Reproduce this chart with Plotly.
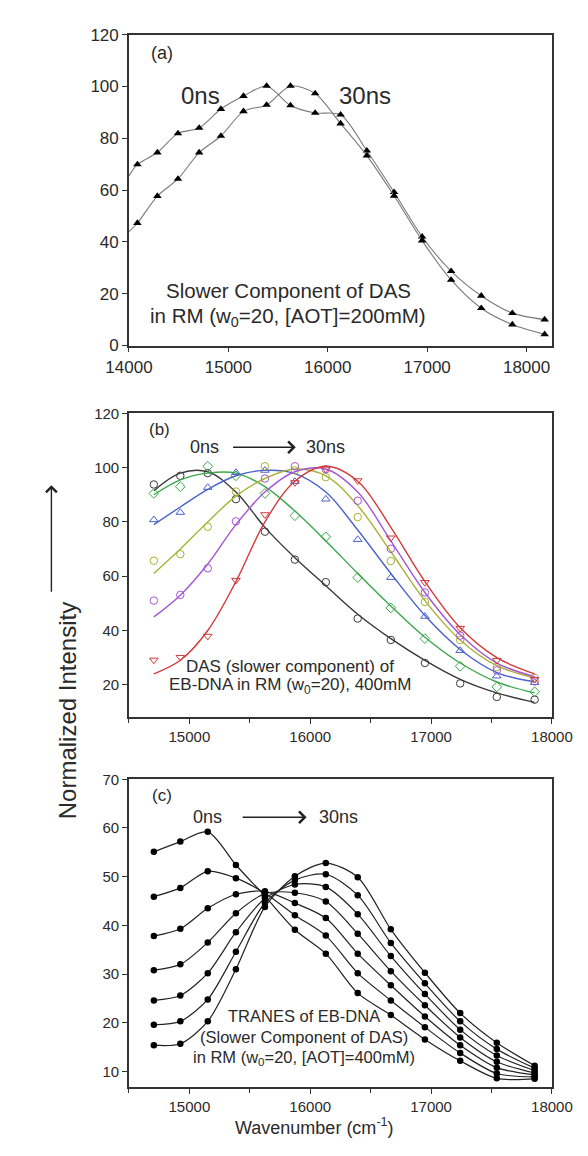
import plotly.graph_objects as go

W, H = 588, 1156

# ---------------- Panel (a) ----------------
wn_a = [14085, 14286, 14493, 14706, 14925, 15152, 15385, 15625, 15873,
        16129, 16393, 16667, 16949, 17241, 17544, 17857, 18182]
a_0ns = [69.9, 74.5, 81.9, 84.0, 91.3, 96.3, 100.2, 92.7, 89.8,
         89.1, 75.2, 59.2, 42.0, 28.7, 19.2, 12.5, 10.0]
a_30ns = [47.3, 57.7, 64.3, 74.5, 80.9, 90.4, 92.9, 100.2, 97.3,
          85.7, 73.3, 57.8, 40.5, 25.3, 14.4, 8.1, 4.3]
a_line_start_x = [14000]
a_0ns_start = [65.5]
a_30ns_start = [44.0]

# ---------------- Panel (b) ----------------
wn_bc = [14706, 14925, 15152, 15385, 15625, 15873, 16129,
         16393, 16667, 16949, 17241, 17544, 17857]
b_black = [93.8, 97.0, 98.0, 88.4, 76.4, 66.1, 57.8, 44.4, 36.5, 28.0, 20.5, 15.5, 14.5]
b_green = [90.5, 93.0, 100.5, 97.0, 90.5, 82.3, 74.5, 59.5, 48.3, 37.0, 26.8, 19.2, 17.4]
b_blue = [80.8, 83.5, 92.7, 98.2, 99.0, 94.9, 88.4, 73.5, 59.5, 45.2, 32.6, 23.2, 20.8]
b_olive = [65.7, 68.1, 78.2, 91.2, 100.5, 99.0, 96.5, 81.8, 65.6, 50.5, 36.5, 26.5, 22.5]
b_purple = [51.0, 53.1, 62.9, 80.2, 96.0, 100.5, 99.4, 87.8, 70.1, 54.0, 38.1, 25.3, 21.2]
b_red = [29.1, 30.1, 37.9, 58.5, 82.7, 94.5, 99.5, 95.2, 74.1, 57.7, 40.8, 29.0, 22.0]

fit_black = [91.5, 98.0, 98.5, 91.0, 78.0, 66.8, 56.5, 46.0, 37.0, 29.0, 22.0, 17.0, 13.5]
fit_green = [90.0, 95.5, 98.0, 98.0, 93.0, 84.0, 73.0, 61.0, 49.0, 37.5, 28.0, 21.0, 17.0]
fit_blue = [79.0, 85.5, 92.0, 97.0, 99.0, 97.8, 91.0, 77.0, 61.0, 45.5, 33.0, 24.5, 21.0]
fit_olive = [61.0, 70.0, 80.0, 89.5, 96.0, 99.5, 97.0, 86.0, 69.0, 51.0, 36.5, 27.0, 22.5]
fit_purple = [45.0, 53.0, 64.5, 79.0, 91.0, 98.5, 99.5, 91.0, 73.0, 54.0, 38.5, 28.0, 23.0]
fit_red = [24.0, 29.0, 40.0, 58.0, 80.0, 95.0, 100.5, 95.0, 78.0, 58.0, 41.0, 30.0, 24.0]

# ---------------- Panel (c) ----------------
c_curves = [
    [55.1, 57.2, 59.2, 52.4, 46.0, 39.1, 34.2, 26.1, 21.6, 16.6, 12.2, 8.6, 8.5],
    [45.9, 47.7, 51.1, 49.7, 46.6, 42.1, 37.9, 30.2, 24.6, 19.1, 13.8, 9.6, 8.9],
    [37.8, 39.3, 43.5, 46.4, 47.0, 44.6, 41.5, 34.2, 27.7, 21.3, 15.4, 10.8, 9.3],
    [30.8, 32.0, 36.5, 42.5, 46.5, 46.7, 44.9, 38.3, 30.6, 23.6, 17.0, 12.0, 9.7],
    [24.6, 25.6, 30.2, 38.6, 45.5, 48.4, 47.9, 42.3, 33.7, 25.9, 18.6, 13.3, 10.2],
    [19.6, 20.3, 24.8, 34.6, 44.6, 49.3, 50.5, 46.2, 36.4, 28.1, 20.3, 14.6, 10.7],
    [15.4, 15.7, 20.3, 31.0, 43.8, 50.1, 52.8, 49.9, 39.2, 30.3, 22.0, 15.9, 11.2],
]

FONT = "Liberation Sans, Arial, sans-serif"
TXT = "#2a2a2a"
AX = "#333333"

fig = go.Figure()

# Panel (a)
for ys, start in [(a_0ns, a_0ns_start), (a_30ns, a_30ns_start)]:
    fig.add_trace(go.Scatter(x=a_line_start_x + wn_a, y=start + ys, mode="lines",
                             line=dict(color="#7a7a7a", width=1.1, shape="spline", smoothing=0.8),
                             xaxis="x", yaxis="y", showlegend=False, hoverinfo="skip"))
    fig.add_trace(go.Scatter(x=wn_a, y=ys, mode="markers",
                             marker=dict(symbol="triangle-up", size=7.5, color="black"),
                             xaxis="x", yaxis="y", showlegend=False))

# Panel (b)
b_series = [
    (b_black, fit_black, "#3a3a3a", "circle-open"),
    (b_green, fit_green, "#3aa84a", "diamond-open"),
    (b_blue, fit_blue, "#4a62cc", "triangle-up-open"),
    (b_olive, fit_olive, "#a9b236", "circle-open"),
    (b_purple, fit_purple, "#a456d4", "circle-open"),
    (b_red, fit_red, "#d23a3a", "triangle-down-open"),
]
for pts, fit, col, sym in b_series:
    fig.add_trace(go.Scatter(x=wn_bc, y=fit, mode="lines",
                             line=dict(color=col, width=1.4, shape="spline", smoothing=1.0),
                             xaxis="x2", yaxis="y2", showlegend=False, hoverinfo="skip"))
    fig.add_trace(go.Scatter(x=wn_bc, y=pts, mode="markers",
                             marker=dict(symbol=sym, size=7.5, color=col, line=dict(width=1, color=col)),
                             xaxis="x2", yaxis="y2", showlegend=False))

# Panel (c)
for ys in c_curves:
    fig.add_trace(go.Scatter(x=wn_bc, y=ys, mode="lines+markers",
                             line=dict(color="#222222", width=1.2, shape="spline", smoothing=0.8),
                             marker=dict(symbol="circle", size=6.5, color="black"),
                             xaxis="x3", yaxis="y3", showlegend=False))

XD = [105 / W, 563 / W]
def ydom(top_px, bot_px):
    return [1 - bot_px / H, 1 - top_px / H]

common_ax = dict(showline=True, linecolor=AX, linewidth=1.6, mirror=True,
                 ticks="outside", ticklen=5, tickwidth=1.2, tickcolor=AX,
                 showgrid=False, zeroline=False, tickformat="d")

fig.update_layout(
    width=W, height=H, margin=dict(l=0, r=0, t=0, b=0),
    paper_bgcolor="white", plot_bgcolor="white",
    font=dict(family=FONT, color=TXT),
    xaxis=dict(domain=XD, range=[14000, 18255], anchor="y", tickvals=[14000, 15000, 16000, 17000, 18000],
               tickfont=dict(size=17), **common_ax),
    yaxis=dict(domain=ydom(18, 334), range=[0, 120], anchor="x", dtick=20,
               tickfont=dict(size=17), **common_ax),
    xaxis2=dict(domain=XD, range=[14500, 18000], anchor="y2", tickvals=[15000, 16000, 17000, 18000],
                minor=dict(ticks="outside", dtick=500, ticklen=4, tickcolor=AX),
                tickfont=dict(size=15), **common_ax),
    yaxis2=dict(domain=ydom(403, 712), range=[8, 120], anchor="x2", tickvals=[20, 40, 60, 80, 100, 120],
                tickfont=dict(size=15), **common_ax),
    xaxis3=dict(domain=XD, range=[14500, 18000], anchor="y3", tickvals=[15000, 16000, 17000, 18000],
                minor=dict(ticks="outside", dtick=500, ticklen=4, tickcolor=AX),
                tickfont=dict(size=15), **common_ax),
    yaxis3=dict(domain=ydom(775, 1088), range=[6.8, 70], anchor="x3", tickvals=[10, 20, 30, 40, 50, 60, 70],
                tickfont=dict(size=15), **common_ax),
)

ann = []
def txt(x, y, t, size, xref, yref, **kw):
    ann.append(dict(x=x, y=y, text=t, xref=xref, yref=yref, showarrow=False,
                    font=dict(size=size, family=FONT, color=TXT), **kw))

# (a) texts
txt(14328, 113, "(a)", 18, "x", "y")
txt(14722, 96.7, "0ns", 24, "x", "y")
txt(16379, 96.7, "30ns", 24, "x", "y")
txt(15603, 21.3, "Slower Component of DAS", 20.5, "x", "y")
txt(15603, 11.0, "in RM (w<sub>0</sub>=20, [AOT]=200mM)", 20.5, "x", "y")

# (b) texts
txt(14752, 114.1, "(b)", 17, "x2", "y2")
txt(15125, 107.5, "0ns", 18, "x2", "y2")
txt(16128, 107.5, "30ns", 18, "x2", "y2")
ann.append(dict(x=15880, y=107.5, ax=15349, ay=107.5, xref="x2", yref="y2", axref="x2", ayref="y2",
                showarrow=True, arrowhead=4, arrowsize=1.6, arrowwidth=1.4, arrowcolor="#222", text=""))
txt(15836, 26.6, "DAS (slower component) of", 17, "x2", "y2")
txt(15836, 19.5, "EB-DNA in RM (w<sub>0</sub>=20), 400mM", 17, "x2", "y2")

# (c) texts
txt(14773, 66.6, "(c)", 17, "x3", "y3")
txt(15151, 62.2, "0ns", 18, "x3", "y3")
txt(16236, 62.2, "30ns", 18, "x3", "y3")
ann.append(dict(x=15970, y=62.2, ax=15428, ay=62.2, xref="x3", yref="y3", axref="x3", ayref="y3",
                showarrow=True, arrowhead=4, arrowsize=1.6, arrowwidth=1.4, arrowcolor="#222", text=""))
txt(15951, 21.4, "TRANES of EB-DNA", 16.5, "x3", "y3")
txt(15951, 17.1, "(Slower Component of DAS)", 16.5, "x3", "y3")
txt(15951, 12.8, "in RM (w<sub>0</sub>=20, [AOT]=400mM)", 16.5, "x3", "y3")

# axis titles
ann.append(dict(x=22 / W, y=1 - 705 / H, xref="paper", yref="paper", text="Normalized Intensity",
                textangle=-90, showarrow=False, font=dict(size=24, family=FONT, color=TXT)))
ann.append(dict(x=21 / W, y=1 - 476 / H, ax=0, ay=108, xref="paper", yref="paper",
                showarrow=True, arrowhead=4, arrowsize=1.5, arrowwidth=1.4, arrowcolor="#222", text=""))
ann.append(dict(x=0.52, y=1 - 1142 / H, xref="paper", yref="paper",
                text="Wavenumber (cm<sup>-1</sup>)", showarrow=False,
                font=dict(size=18, family=FONT, color=TXT)))

fig.update_layout(annotations=ann)
fig.write_html("out.html")
